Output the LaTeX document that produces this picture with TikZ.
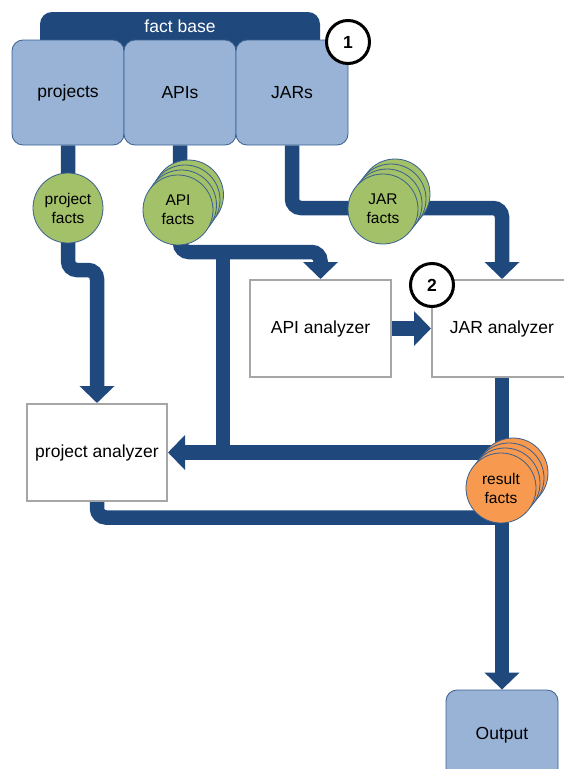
\documentclass[tikz,border=0pt]{standalone}
\usepackage{fontspec}
\setmainfont{Liberation Sans}
\usetikzlibrary{arrows.meta,backgrounds}
\definecolor{pipeblue}{HTML}{1F497D}
\definecolor{boxblue}{HTML}{98B3D5}
\definecolor{boxedge}{HTML}{3A5F8F}
\definecolor{factgreen}{HTML}{A2C168}
\definecolor{factorange}{HTML}{F79A4F}
\definecolor{anaedge}{HTML}{A6A6A6}
\tikzset{
  pipe/.style={draw=pipeblue, line width=14.5pt, rounded corners=9pt},
  pipearrow/.style={pipe, -{Triangle[width=34pt,length=17pt]}},
  fbbox/.style={draw=boxedge, fill=boxblue, line width=0.8pt, rounded corners=11pt,
    minimum width=112pt, minimum height=105pt, inner sep=0pt,
    font=\fontsize{17.5}{21}\selectfont},
  anabox/.style={draw=anaedge, fill=white, line width=2pt,
    inner sep=0pt, font=\fontsize{17.5}{21}\selectfont},
  fcirc/.style={circle, draw=boxedge, line width=0.8pt, minimum size=70pt, inner sep=0pt,
    align=center, font=\fontsize{15.5}{19}\selectfont},
  numcirc/.style={circle, draw=black, fill=white, line width=3pt, minimum size=43pt,
    inner sep=0pt, font=\bfseries\fontsize{17.5}{21}\selectfont},
}
\begin{document}
\begin{tikzpicture}[x=1pt,y=-1pt]
\useasboundingbox (0,0) rectangle (563,769);
% fact base band
\fill[pipeblue, rounded corners=12pt] (40,12) rectangle (320,62);
\node[text=white, font=\fontsize{17.5}{21}\selectfont] (fb) at (180,26) {fact base};
% boxes
\node[fbbox] (projects) at (68,92.5) {projects};
\node[fbbox] (apis) at (180,92.5) {APIs};
\node[fbbox] (jars) at (292,92.5) {JARs};
\node[numcirc] (n1) at (348,42) {1};
% analyzers
\node[anabox, minimum width=141pt, minimum height=97pt] (apia) at (320.5,328.5) {API analyzer};
\node[anabox, minimum width=140pt, minimum height=97pt] (jara) at (502,328.5) {JAR analyzer};
\node[numcirc] (n2) at (432,285) {2};
\node[anabox, minimum width=140pt, minimum height=97pt] (pa) at (97,452.5) {project analyzer};
\node[fbbox, minimum width=112pt, minimum height=90pt] (out) at (502,735) {Output};
% corner coordinates
\coordinate (pj1) at (68,270);
\coordinate (pj2) at (97,270);
\coordinate (ap1) at (180,252);
\coordinate (ap2) at (320.5,252);
\coordinate (br1) at (223,252);
\coordinate (br2) at (223,452.5);
\coordinate (jr1) at (292,208);
\coordinate (jr2) at (502,208);
\coordinate (rs1) at (502,452.5);
\coordinate (bt1) at (97,517.5);
\coordinate (bt2) at (502,517.5);
% pipes behind the boxes
\begin{scope}[on background layer]
\draw[pipearrow] (projects.south) -- (pj1) -- (pj2) -- (pa.north);
\draw[pipearrow] (apis.south) -- (ap1) -- (ap2) -- (apia.north);
\draw[pipe] (br1) -- (br2);
\draw[pipearrow] (jars.south) -- (jr1) -- (jr2) -- (jara.north);
\draw[pipearrow] (apia.east) -- (jara.west);
\draw[pipearrow] (jara.south) -- (out.north);
\draw[pipearrow] (rs1) -- (pa.east);
\draw[pipe] (pa.south) -- (bt1) -- (bt2);
\end{scope}
% fact circles
\node[fcirc, fill=factgreen] (pf) at (68,208) {project\\facts};
\foreach \k in {3,2,1} {\node[fcirc, fill=factgreen] at (178+\k*3.5,210-\k*5) {};}
\node[fcirc, fill=factgreen] (af) at (178,210) {API\\facts};
\foreach \k in {3,2,1} {\node[fcirc, fill=factgreen] at (383+\k*4,209-\k*5) {};}
\node[fcirc, fill=factgreen] (jf) at (383,209) {JAR\\facts};
\foreach \k in {3,2,1} {\node[fcirc, fill=factorange] at (501+\k*4,488-\k*5) {};}
\node[fcirc, fill=factorange] (rf) at (501,488) {result\\facts};
\end{tikzpicture}
\end{document}
